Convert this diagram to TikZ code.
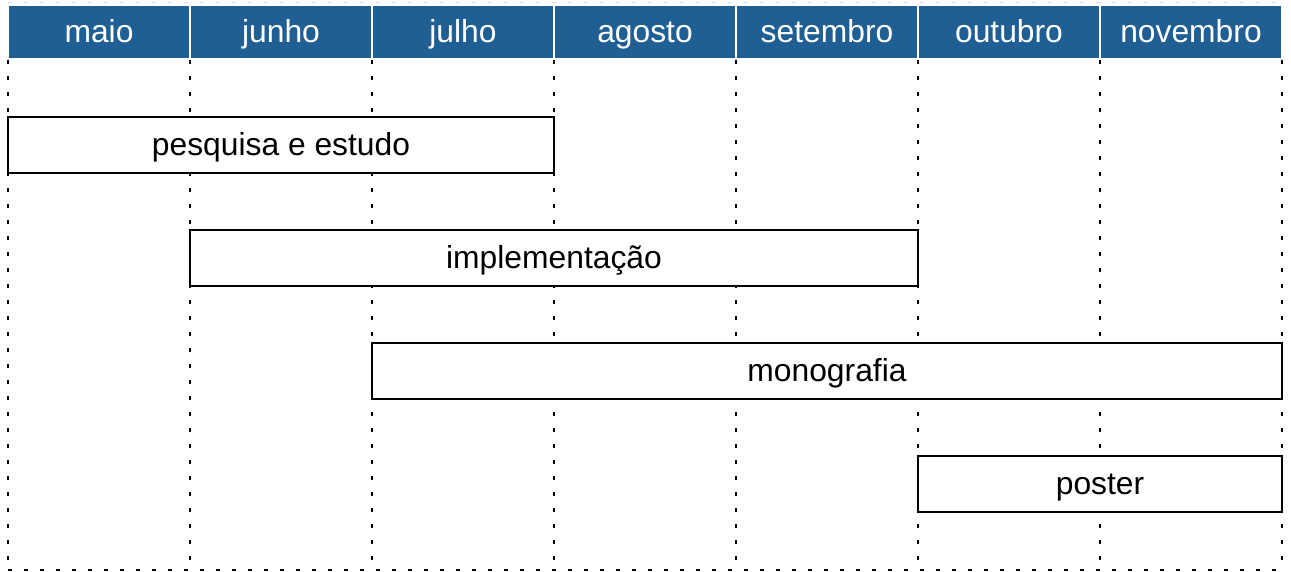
\documentclass[tikz,border=0pt]{standalone}
\usepackage{fontspec}
\setmainfont{Liberation Sans}
\definecolor{headblue}{RGB}{31,95,148}
\tikzset{
  month/.style={fill=headblue, draw=white, line width=1.5pt, text=white,
    minimum width=182pt, minimum height=54pt, inner sep=0pt,
    text height=25.5pt, text depth=4.5pt},
  task/.style={draw=black, line width=2.5pt, fill=white,
    minimum height=56pt, inner sep=0pt, text height=25.5pt, text depth=4.5pt},
  gridline/.style={line width=2pt, dash pattern=on 4pt off 12pt},
}
\begin{document}
\begin{tikzpicture}[x=1pt,y=-1pt]
         \fontsize{31.8}{38}\selectfont
         \useasboundingbox (0,0) rectangle (1291,572);

         % grid
         \draw[gridline, gray!30, line width=1pt] (8,3) -- (1282,3);
         \foreach \x in {8,190,...,1282} \draw[gridline] (\x,60) -- (\x,570);
         \draw[gridline] (8,570) -- (1282,570);

         % months
         \node[month] at (99,32) (maio) {maio};
         \node[month] at (281,32) (junho) {junho};
         \node[month] at (463,32) (julho) {julho};
         \node[month] at (645,32) (agosto) {agosto};
         \node[month] at (827,32) (setembro) {setembro};
         \node[month] at (1009,32) (outubro) {outubro};
         \node[month] at (1191,32) (novembro) {novembro};

         % tasks
         \node[task, minimum width=546pt] at (281,145) (pesquisa) {pesquisa e estudo};
         \node[task, minimum width=728pt] at (554,258) (impl) {implementação};
         \node[task, minimum width=910pt] at (827,371) (mono) {monografia};
         \node[task, minimum width=364pt] at (1100,484) (poster) {poster};
      \end{tikzpicture}
\end{document}
